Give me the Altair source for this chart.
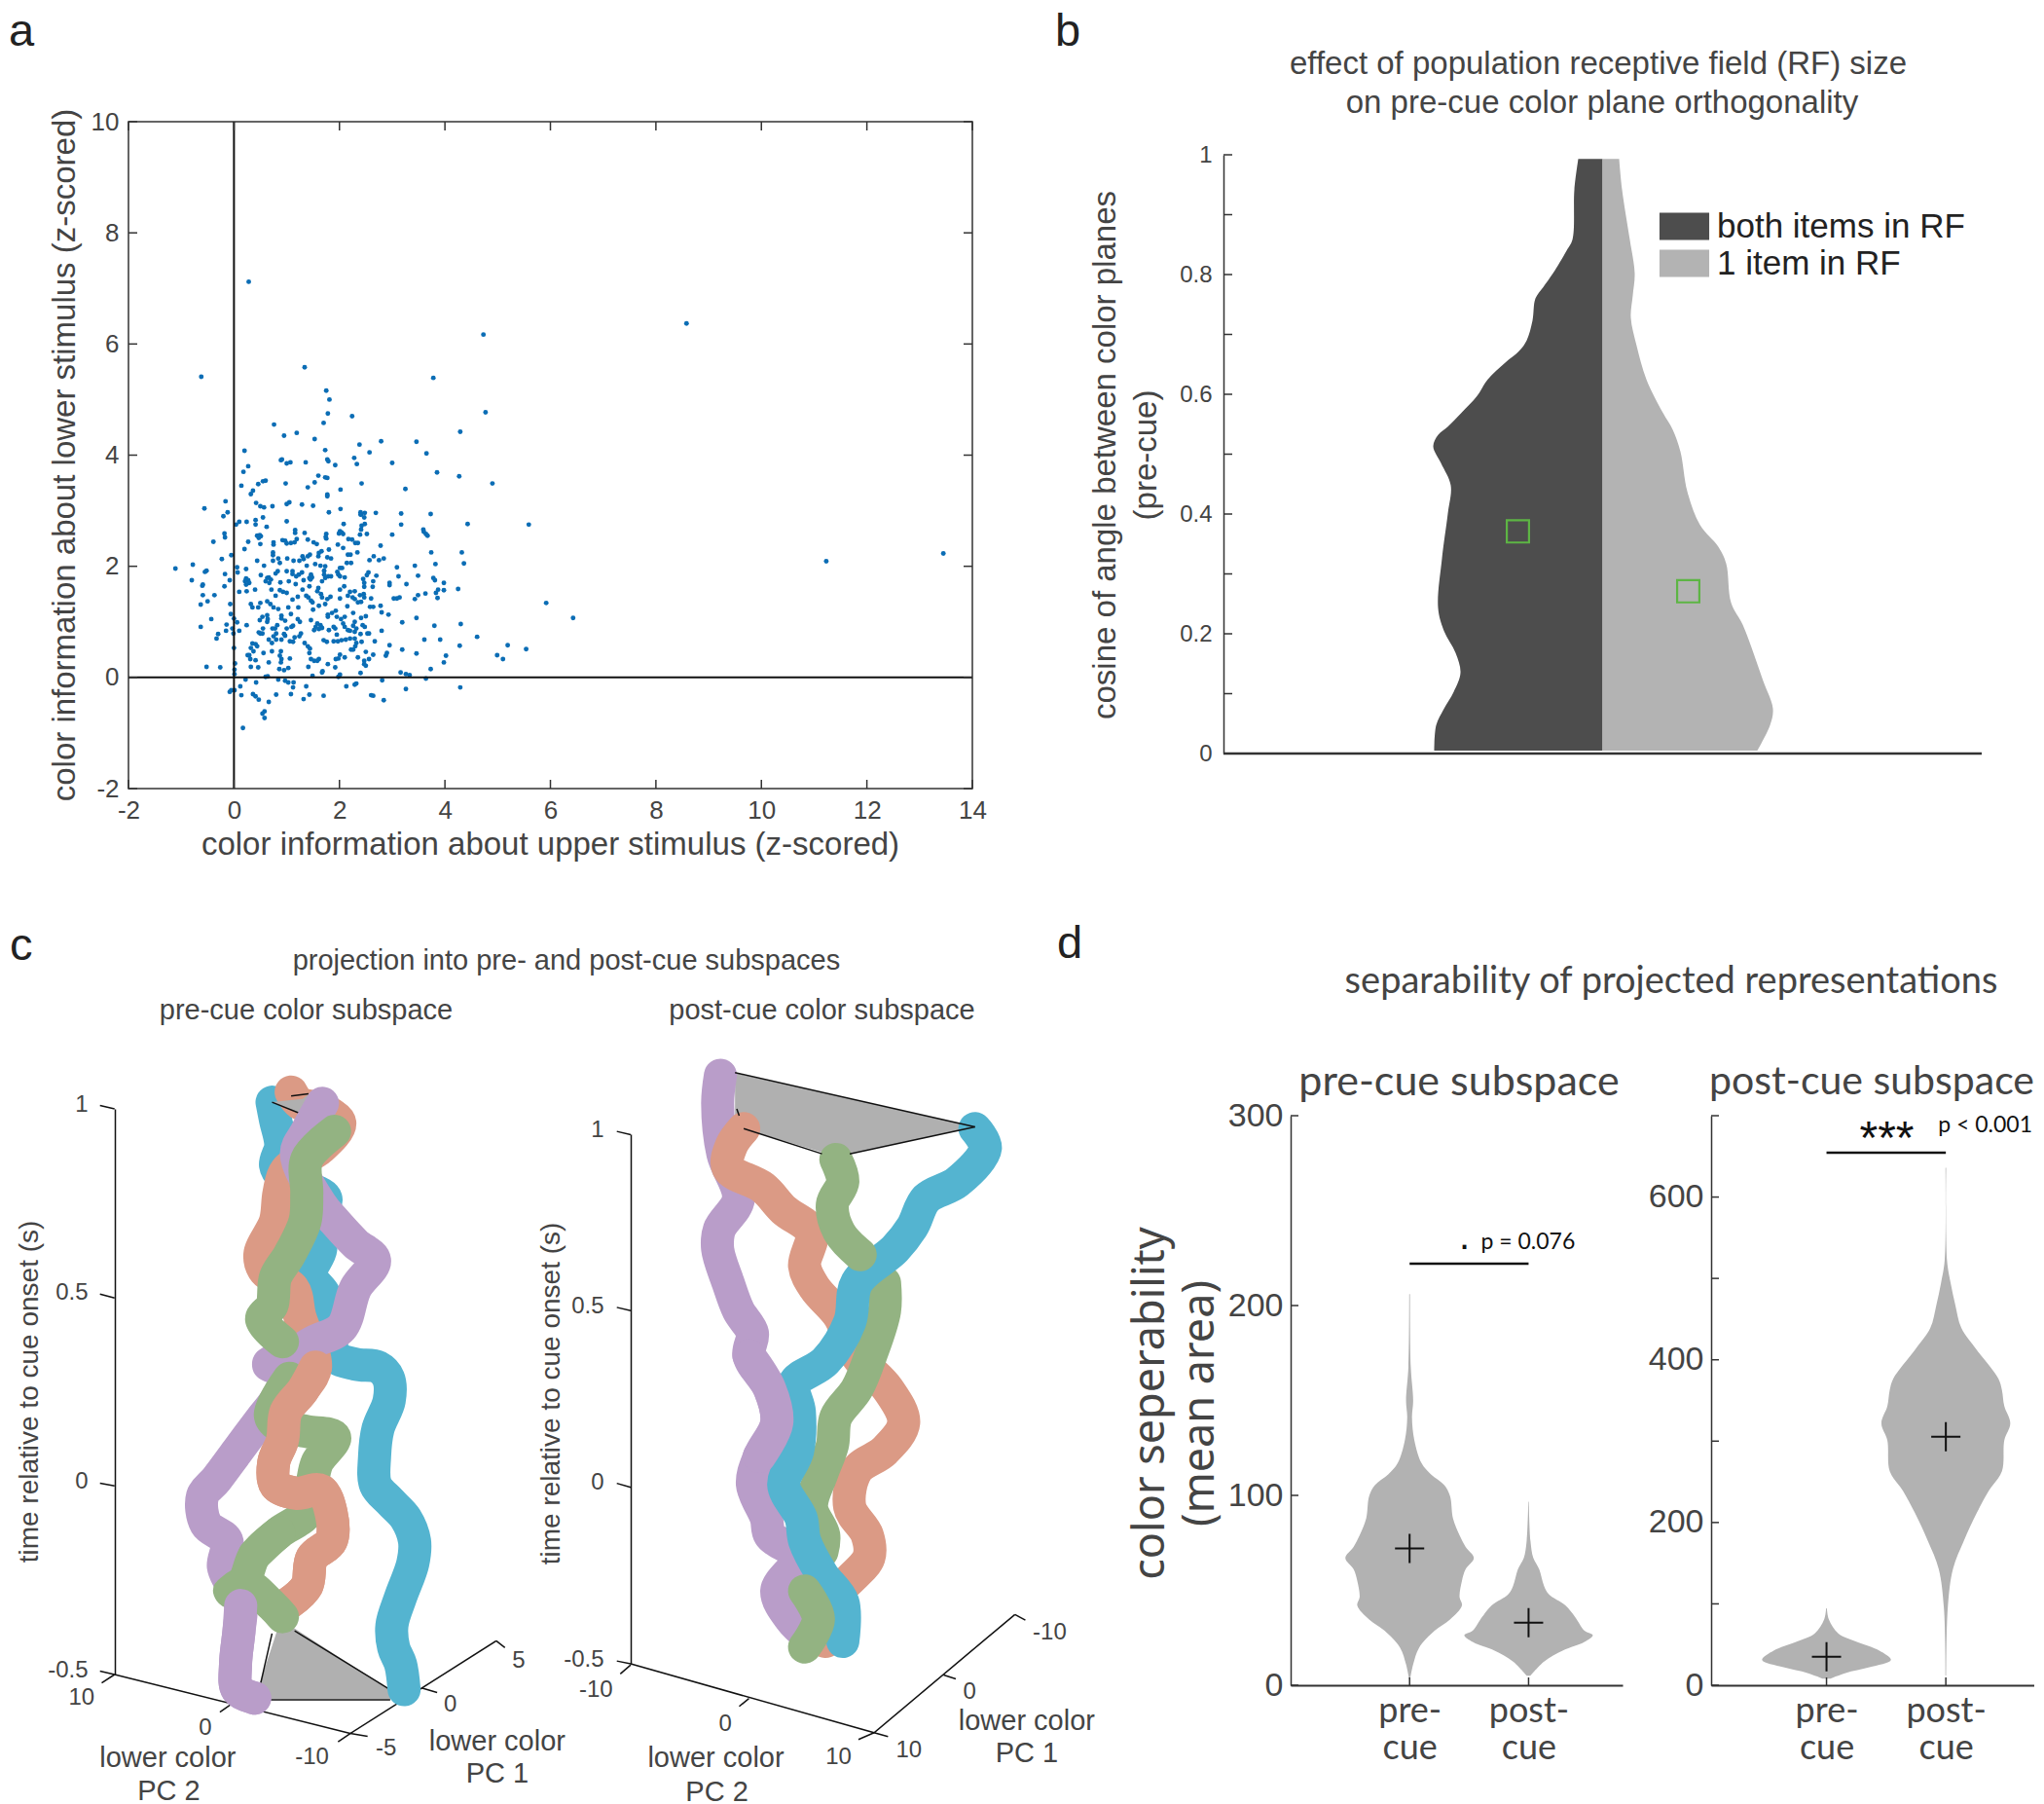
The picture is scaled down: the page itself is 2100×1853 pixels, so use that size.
import altair as alt
import pandas as pd

HELV = "Liberation Sans"
CAL = "Lato"
GREY = "#444444"

# ---------- panel a ----------
a_points = [(-0.62,5.41),(1.34,5.58),(3.78,5.39),(1.75,5.16),(1.81,5.0),(1.78,4.75),(2.24,4.7),(1.7,4.58),(0.76,4.55),(4.77,4.77),(4.29,4.42),
(0.95,4.35),(1.19,4.4),(1.53,4.29),(2.38,4.19),(2.57,4.05),(2.79,4.25),(3.46,4.24),(3.65,4.03),(0.2,4.08),(1.73,4.09),(2.28,3.95),(2.33,3.84),
(1.77,3.92),(1.79,3.89),(1.92,3.82),(3.0,3.86),(0.27,3.8),(0.18,3.7),(0.89,3.91),(0.91,3.92),(1.0,3.85),(1.07,3.87),(1.36,3.87),(3.85,3.69),
(4.27,3.62),(4.9,3.49),(1.6,3.63),(1.53,3.51),(1.4,3.42),(1.73,3.6),(1.77,3.59),(0.98,3.49),(2.42,3.49),(0.6,3.54),(0.55,3.53),(0.46,3.48),
(0.14,3.45),(0.36,3.36),(0.32,3.3),(2.02,3.38),(3.25,3.39),(1.77,3.29),(1.77,3.26),(0.42,3.14),(0.5,3.08),(0.57,3.06),(0.73,3.08),(1.0,3.12),
(1.05,3.15),(1.29,3.11),(1.5,3.09),(-0.16,3.17),(-0.56,3.04),(-0.12,2.97),(-0.2,2.9),(2.02,3.03),(1.8,2.97),(2.4,2.97),(2.48,2.96),(2.41,2.93),
(2.47,2.88),(2.4,2.93),(2.69,2.96),(3.17,2.95),(3.73,2.94),(0.55,2.88),(0.41,2.83),(0.41,2.75),(0.24,2.8),(0.1,2.8),(0.04,2.75),(1.0,2.81),
(0.62,2.71),(2.08,2.76),(2.48,2.76),(2.42,2.73),(2.41,2.66),(3.17,2.75),(4.43,2.76),(5.59,2.75),(3.59,2.66),(3.6,2.62),(3.64,2.58),(3.67,2.55),
(1.16,2.65),(1.16,2.6),(1.34,2.6),(2.01,2.63),(1.99,2.59),(2.04,2.61),(2.07,2.58),(2.52,2.58),(2.39,2.57),(3.0,2.57),(-0.18,2.59),(-0.17,2.52),
(0.44,2.55),(0.49,2.56),(0.47,2.51),(0.51,2.54),(1.75,2.58),(1.74,2.53),(1.75,2.5),(0.92,2.47),(0.97,2.46),(1.0,2.41),(1.08,2.42),(1.15,2.43),
(1.19,2.49),(0.75,2.43),(0.75,2.39),(1.4,2.48),(1.51,2.43),(1.57,2.4),(2.17,2.49),(2.24,2.48),(2.3,2.42),(2.35,2.42),(-0.39,2.44),(0.27,2.44),
(0.5,2.4),(0.2,2.31),(1.97,2.39),(2.07,2.33),(1.8,2.3),(2.78,2.37),(0.74,2.25),(0.74,2.2),(1.66,2.27),(1.61,2.24),(1.6,2.18),(3.74,2.25),(4.32,2.25),
(2.34,2.25),(2.16,2.21),(2.21,2.21),(1.44,2.21),(1.4,2.18),(1.3,2.18),(-0.05,2.2),(2.65,2.18),(2.57,2.11),(2.75,2.11),(2.84,2.14),(1.77,2.16),
(1.84,2.14),(1.01,2.14),(1.13,2.1),(1.24,2.1),(1.32,2.13),(0.84,2.14),(0.87,2.06),(-0.23,2.13),(0.74,2.1),(0.44,2.1),(2.14,2.06),(2.22,2.06),
(3.82,2.04),(4.36,2.05),(3.43,2.01),(1.54,2.04),(1.64,2.01),(1.73,2.0),(0.57,2.01),(1.38,2.01),(0.06,1.98),(3.09,1.98),(0.23,1.95),(-0.52,1.92),
(0.07,1.89),(2.01,1.97),(2.05,1.97),(1.96,1.9),(1.98,1.85),(0.83,1.91),(0.79,1.87),(1.0,1.91),(1.11,1.91),(1.11,1.86),(1.29,1.89),(1.23,1.85),
(1.18,1.82),(1.71,1.92),(1.71,1.85),(1.46,1.85),(1.43,1.79),(1.48,1.8),(2.55,1.89),(2.52,1.84),(-0.17,1.86),(2.7,1.83),(3.12,1.82),(3.49,1.83),
(0.51,1.84),(0.63,1.79),(0.66,1.8),(0.7,1.76),(0.6,1.73),(0.67,1.7),(1.79,1.82),(1.84,1.82),(1.73,1.79),(1.67,1.73),(2.1,1.8),(2.01,1.82),
(0.23,1.78),(0.27,1.75),(0.21,1.73),(0.29,1.7),(0.23,1.67),(-0.08,1.75),(-0.59,1.67),(-0.18,1.64),(2.45,1.77),(2.47,1.7),(2.47,1.63),(2.64,1.73),
(2.63,1.63),(3.78,1.79),(3.81,1.75),(3.98,1.7),(3.27,1.68),(2.95,1.7),(2.95,1.66),(0.88,1.71),(1.04,1.73),(1.32,1.75),(1.45,1.76),(1.17,1.68),
(1.3,1.58),(1.43,1.64),(1.6,1.61),(1.58,1.55),(2.09,1.64),(2.01,1.58),(2.2,1.54),(2.29,1.55),(0.71,1.58),(0.4,1.58),(0.24,1.55),(0.1,1.54),
(0.87,1.57),(0.93,1.54),(1.0,1.52),(1.65,1.5),(1.67,1.44),(2.46,1.5),(2.39,1.48),(2.6,1.42),(3.98,1.57),(3.87,1.58),(3.83,1.52),(3.49,1.48),
(3.43,1.41),(3.63,1.51),(4.25,1.59),(3.86,1.43),(-0.37,1.48),(-0.59,1.48),(-0.5,1.37),(-0.63,1.31),(0.79,1.47),(1.11,1.4),(1.21,1.45),(1.37,1.47),
(1.46,1.38),(1.83,1.45),(2.01,1.42),(2.16,1.47),(3.03,1.42),(3.09,1.42),(3.14,1.44),(2.25,1.44),(2.29,1.41),(2.47,1.44),(2.35,1.35),(2.41,1.36),
(1.41,1.44),(1.49,1.35),(1.77,1.41),(1.73,1.32),(1.61,1.29),(0.5,1.34),(0.63,1.37),(0.69,1.32),(0.75,1.26),(0.84,1.23),(0.32,1.32),(0.35,1.26),
(0.46,1.26),(-0.07,1.32),(1.03,1.26),(1.22,1.26),(2.15,1.28),(2.58,1.27),(2.64,1.27),(2.78,1.29),(1.5,1.22),(1.93,1.2),(1.86,1.16),(1.78,1.13),
(2.8,1.17),(2.93,1.13),(-0.06,1.14),(1.08,1.14),(2.26,1.16),(0.9,1.11),(0.9,1.06),(0.97,1.02),(0.63,1.12),(0.64,1.05),(0.54,1.09),(0.49,1.03),
(0.63,1.0),(1.95,1.09),(2.03,1.05),(2.1,1.09),(2.5,1.1),(2.41,1.07),(1.78,1.09),(1.21,1.05),(1.25,1.0),(1.46,1.03),(0.0,1.06),(0.06,0.99),(-0.43,1.05),
(3.19,0.99),(3.46,1.07),(3.8,0.93),(4.3,0.96),(0.82,0.94),(0.78,0.88),(0.73,0.88),(1.12,0.93),(1.0,0.88),(1.09,0.91),(1.58,0.97),(1.64,0.94),
(1.55,0.91),(1.52,0.85),(1.61,0.87),(1.67,0.89),(1.89,0.91),(2.07,0.97),(2.1,0.91),(2.16,0.85),(2.29,1.0),(2.26,0.93),(2.44,0.94),(2.48,0.91),
(-0.63,0.91),(-0.14,0.95),(-0.03,0.88),(0.24,0.94),(0.55,0.88),(0.54,0.79),(0.5,0.79),(0.47,0.81),(1.8,0.85),(1.92,0.88),(1.95,0.77),(2.2,0.84),
(2.32,0.88),(2.29,0.82),(-0.15,0.84),(-0.01,0.79),(0.1,0.84),(-0.3,0.78),(-0.33,0.7),(2.4,0.78),(2.53,0.79),(2.56,0.79),(2.8,0.84),(1.27,0.79),
(1.24,0.74),(1.15,0.72),(0.97,0.75),(0.95,0.78),(0.8,0.79),(0.75,0.74),(0.66,0.68),(0.8,0.68),(0.72,0.62),(0.9,0.68),(1.06,0.65),(1.12,0.64),
(1.34,0.62),(1.4,0.56),(1.44,0.52),(1.7,0.67),(1.76,0.64),(1.89,0.65),(1.97,0.65),(2.04,0.67),(2.12,0.68),(2.2,0.7),(2.29,0.7),(2.32,0.62),(2.3,0.56),
(2.26,0.5),(2.22,0.5),(2.42,0.64),(2.67,0.65),(2.95,0.58),(3.19,0.5),(3.46,0.43),(3.61,0.68),(3.91,0.68),(4.28,0.57),(4.61,0.73),(5.19,0.58),
(5.92,1.34),(6.43,1.07),(5.54,0.51),(4.99,0.4),(5.1,0.33),(4.02,0.39),(3.98,0.27),(3.73,0.15),(0.35,0.61),(0.41,0.6),(0.32,0.53),(0.44,0.56),(0.0,0.53),
(0.56,0.44),(0.89,0.47),(0.87,0.39),(0.72,0.47),(0.26,0.4),(0.29,0.4),(0.37,0.47),(0.31,0.33),(0.41,0.31),(1.06,0.34),(0.9,0.33),(0.89,0.27),(0.66,0.27),
(1.43,0.44),(1.61,0.33),(1.52,0.3),(1.46,0.33),(1.58,0.3),(2.01,0.41),(1.98,0.34),(1.93,0.33),(2.1,0.36),(2.5,0.46),(2.64,0.41),(2.35,0.36),(2.56,0.33),
(2.47,0.3),(2.9,0.44),(2.88,0.39),(1.78,0.24),(2.47,0.24),(2.5,0.21),(0.02,0.25),(-0.52,0.19),(-0.26,0.18),(0.01,0.14),(0.01,0.06),(0.32,0.19),(0.46,0.18),
(0.86,0.15),(0.95,0.13),(1.03,0.17),(1.41,0.19),(1.92,0.18),(1.68,0.11),(1.67,0.09),(2.4,0.08),(3.16,0.09),(3.26,0.06),(3.33,0.04),(0.6,0.01),(0.64,0.02),
(1.49,0.03),(1.98,0.01),(2.01,0.05),(3.64,-0.02),(2.81,-0.05),(0.22,-0.04),(0.42,-0.09),(0.84,-0.04),(0.97,-0.06),(1.03,-0.09),(1.13,-0.09),(1.12,-0.18),
(2.32,-0.11),(2.29,-0.13),(2.13,-0.16),(0.12,-0.16),(1.37,-0.16),(3.26,-0.21),(4.29,-0.18),(-0.08,-0.26),(-0.05,-0.23),(0.01,-0.23),(0.14,-0.32),(0.36,-0.3),
(0.41,-0.34),(0.47,-0.4),(0.8,-0.31),(1.08,-0.3),(1.43,-0.31),(1.32,-0.39),(1.7,-0.33),(2.6,-0.32),(2.64,-0.33),(2.84,-0.41),(0.66,-0.44),(0.58,-0.61),
(0.54,-0.65),(0.58,-0.73),(0.17,-0.91),(0.28,7.12),(4.73,6.17),(8.58,6.37),(11.23,2.09),(13.45,2.23),(-1.11,1.96),(-0.78,2.03),(-0.8,1.75),(-0.55,1.9),(-0.6,1.65)]
a_x_ticks = [-2, 0, 2, 4, 6, 8, 10, 12, 14]
a_y_ticks = [-2, 0, 2, 4, 6, 8, 10]

# ---------- panel b ----------
b_left_value = [.993,.942,.858,.840,.802,.779,.760,.723,.690,.672,.653,.625,.597,.569,.546,.532,.513,.485,.448,.401,.326,.243,.205,.168,.135,.103,.075,.047,.005]
b_left_width = [25,29,31,37,51,61,69,72,78,86,100,118,129,145,159,169,174,166,156,159,165,169,163,151,146,153,163,171,173]
b_right_value = [.993,.942,.858,.802,.765,.728,.681,.625,.569,.541,.504,.438,.382,.345,.317,.252,.215,.168,.121,.075,.047,.005]
b_right_width = [17,20,28,33,31,29,35,45,62,72,80,87,100,119,127,132,144,155,165,175,172,159]
b_medians = [(-87, 0.371), (88, 0.271)]
b_ticks = [0, .1, .2, .3, .4, .5, .6, .7, .8, .9, 1]
b_names = ["both items in RF", "1 item in RF"]

# ---------- panel c (readings on the projection plane) ----------
c1_blue = [(1160,1365),(1150,1320),(1130,1290),(1125,1250),(1150,1200),(1185,1140),(1190,1100),(1165,1060),(1120,1030),(1078,1000),(1075,950),(1085,900),(1117,850),(1115,810),(1085,790),(1020,785),(960,770),(950,700),(930,660),(890,625),(920,580),(905,530),(935,490),(880,470),(810,450),(790,430),(805,395),(790,350),(780,318)]
c1_salmon = [(830,1210),(880,1180),(895,1130),(950,1100),(950,1050),(920,1010),(850,1015),(790,1000),(785,960),(810,920),(820,870),(870,830),(905,790),(860,700),(840,650),(760,620),(745,590),(790,530),(800,480),(820,440),(920,400),(975,355),(920,330),(860,320),(835,300)]
c1_salmon_low = [(830,1210),(880,1180),(895,1130),(950,1100),(950,1050),(920,1010),(850,1015),(790,1000),(785,960),(810,920),(820,870),(870,830),(905,790)]
c1_purple = [(730,1380),(680,1365),(675,1320),(685,1260),(690,1215),(660,1175),(640,1145),(650,1100),(590,1070),(580,1020),(620,990),(680,940),(740,890),(800,840),(820,800),(770,785),(830,770),(900,745),(980,720),(1020,650),(1075,600),(1020,570),(960,530),(920,500),(850,410),(880,370),(925,320)]
c1_purple_low = [(730,1380),(680,1365),(675,1320),(685,1260),(690,1215)]
c1_green_top = [(960,370),(880,420),(880,480),(875,530),(830,590),(790,630),(780,680),(750,705),(810,745)]
c1_green_mid = [(830,810),(775,875),(800,895),(880,905),(960,915),(910,960),(895,1000),(880,1050),(800,1085),(730,1125)]
c1_green_low = [(800,1085),(730,1125),(700,1170),(660,1190),(700,1175),(780,1215),(810,1235)]

c2_purple = [(558,270),(550,320),(565,410),(610,490),(555,545),(550,580),(580,640),(610,690),(650,730),(640,770),(700,830),(720,890),(670,950),(650,1000),(690,1060),(700,1090),(780,1130),(720,1190),(760,1240),(810,1270)]
c2_purple_mid = [(640,770),(700,830),(720,890),(670,950)]
c2_salmon = [(625,365),(590,395),(580,435),(680,470),(740,510),(820,550),(800,610),(830,650),(900,700),(950,770),(1040,830),(1085,890),(1030,940),(950,975),(930,1040),(980,1090),(985,1130),(930,1170),(880,1200),(860,1280)]
c2_green_top = [(890,420),(910,460),(880,500),(900,550),(960,590)]
c2_green_mid = [(1030,640),(1030,690),(990,770),(950,830),(890,880),(880,930),(850,980),(820,1040),(855,1090),(850,1120)]
c2_green_low = [(800,1190),(840,1240),(800,1290)]
c2_blue = [(1290,365),(1320,400),(1240,460),(1150,490),(1110,540),(1060,580),(950,640),(930,710),(860,780),(770,820),(785,870),(780,940),(740,1000),(790,1060),(800,1100),(850,1160),(910,1210),(910,1280)]

c1_plane_x = [730, 805, 1160]
c1_plane_top = [1382, 1240, 1382]
c1_plane_bottom = [1382, 1382, 1382]
c1_lid_x = [780, 868, 885]
c1_lid_top = [318, 312, 304]
c1_lid_bottom = [318, 340, 304]
c2_plane_x = [600, 625, 890, 1290]
c2_plane_top = [265, 269, 306, 362]
c2_plane_bottom = [340, 365, 415, 362]

c1_segments = [(285,324,327,330),(285,660,327,667),(285,997,327,1002),(285,1332,327,1338),(327,1338,1005,1443),(1005,1443,1425,1278),
               (327,1338,290,1353),(665,1390,630,1405),(1005,1443,970,1458),(1005,1443,1055,1448),(1210,1362,1255,1370),(1425,1278,1450,1290),
               (845,1260,1120,1365),(745,1383,1120,1383),(745,1360,780,1265)]
c1_top_segments = [(780,318,868,340),(835,307,885,303)]
c2_segments = [(260,370,300,376),(260,684,300,690),(260,998,300,1005),(260,1315,300,1320),(300,1320,1000,1443),(1000,1443,1405,1232),
               (300,1322,270,1338),(640,1382,612,1396),(1000,1443,955,1455),(1000,1443,1040,1450),(1200,1340,1235,1347),(1405,1232,1435,1242)]
c2_top_segments = [(600,265,1290,362),(1290,362,930,410),(625,365,850,410),(605,330,612,342)]

c1_tick_text = [(232,1380,"10"),(588,1433,"0"),(895,1485,"-10"),(1108,1470,"-5"),(1293,1392,"0"),(1490,1313,"5")]
c1_axis_text = [(480,1488,"lower color"),(483,1546,"PC 2"),(1428,1458,"lower color"),(1428,1515,"PC 1")]
c1_title_text = [(1627,66,"projection into pre- and post-cue subspaces"),(878,155,"pre-cue color subspace")]
c2_tick_text = [(200,1367,"-10"),(572,1427,"0"),(898,1487,"10"),(1100,1475,"10"),(1275,1370,"0"),(1505,1265,"-10")]
c2_axis_text = [(545,1488,"lower color"),(548,1549,"PC 2"),(1439,1423,"lower color"),(1439,1480,"PC 1")]
c2_title_text = [(850,155,"post-cue color subspace")]

# ---------- panel d ----------
d1_pre_value = [206,167.6,149.9,141,129,117,111,105.5,99.6,87.8,79,73,67,61,55,46.4,42,34.6,28.7,19.8,11,3.5]
d1_pre_half = [.003,.01,.03,.02,.04,.10,.18,.29,.34,.365,.42,.47,.54,.47,.44,.42,.44,.34,.21,.08,.03,.005]
d1_post_value = [96.7,76,67,61,52.3,47.9,42,36,28.7,26.3,22.8,18.3,12.4,5]
d1_post_half = [.002,.016,.04,.09,.13,.17,.31,.39,.47,.54,.47,.29,.13,.016]
d2_pre_value = [94.5,80.7,63.4,53,42.8,31,22,15,8]
d2_pre_half = [.003,.02,.10,.26,.44,.54,.36,.16,.03]
d2_post_value = [636,522,494.5,467,439,412,377,363,343,322,301,263,239,212,177,143,94.5,12]
d2_post_half = [.003,.01,.04,.08,.13,.26,.44,.47,.49,.54,.49,.47,.36,.26,.15,.06,.016,.003]
d1_means = [72, 33]
d2_means = [35, 305.5]
d1_y_ticks = [0, 100, 200, 300]
d2_y_ticks = [0, 100, 200, 300, 400, 500, 600, 700]
d_positions = [1, 2]

BLUE, SALMON, PURPLE, GREEN = "#54b4d0", "#db9a85", "#b99dc9", "#93b382"


def letter(text, x, y):
    return alt.Chart(pd.DataFrame({"t": [text]})).mark_text(
        font=HELV, fontSize=47, align="left", baseline="alphabetic", color="#222222"
    ).encode(x=alt.value(x), y=alt.value(y), text="t:N")


def fixed_text(text, x, y, size, font=HELV, color=GREY):
    return alt.Chart(pd.DataFrame({"t": [text]})).mark_text(
        font=font, fontSize=size, align="center", baseline="middle", color=color
    ).encode(x=alt.value(x), y=alt.value(y), text="t:N")


# ---------- build a ----------
HELV_AXIS = dict(labelFont=HELV, titleFont=HELV, labelColor=GREY, titleColor=GREY, grid=False, tickSize=0,
                 domain=False, labelExpr="toString(datum.value)", titleFontWeight="normal", labelFlush=False)
ax = alt.Scale(domain=[-2, 14], nice=False, zero=False)
ay = alt.Scale(domain=[-2, 10], nice=False, zero=False)
a_xaxis = alt.Axis(values=a_x_ticks, labelFontSize=26, labelPadding=9,
        title="color information about upper stimulus (z-scored)", titleFontSize=33,
        titleX=433, titleY=57, titleBaseline="middle", titleAlign="center", **HELV_AXIS)
a_yaxis = alt.Axis(values=a_y_ticks, labelFontSize=26, labelPadding=10,
        title="color information about lower stimulus (z-scored)", titleFontSize=33,
        titleX=-66, titleY=342, titleBaseline="middle", titleAlign="center", **HELV_AXIS)
AX = lambda f: alt.X(f, scale=ax, axis=a_xaxis)
AY = lambda f: alt.Y(f, scale=ay, axis=a_yaxis)
a_df = pd.DataFrame(a_points, columns=["upper", "lower"])
a_base = alt.Chart(a_df).mark_circle(size=24, opacity=1, color="#0b6db5").encode(x=AX("upper:Q"), y=AY("lower:Q"))
xt = pd.DataFrame({"v": a_x_ticks})
yt = pd.DataFrame({"v": a_y_ticks})
tick_style = dict(color="#333333", strokeWidth=1.5)
a_chart = alt.layer(
    a_base,
    alt.Chart(pd.DataFrame({"v": [0]})).mark_rule(color="#111111", strokeWidth=2).encode(x=AX("v:Q")),
    alt.Chart(pd.DataFrame({"v": [0]})).mark_rule(color="#111111", strokeWidth=2).encode(y=AY("v:Q")),
    alt.Chart(xt).mark_rule(**tick_style).encode(x=AX("v:Q"), y=alt.value(685), y2=alt.value(676)),
    alt.Chart(xt).mark_rule(**tick_style).encode(x=AX("v:Q"), y=alt.value(0), y2=alt.value(9)),
    alt.Chart(yt).mark_rule(**tick_style).encode(y=AY("v:Q"), x=alt.value(0), x2=alt.value(9)),
    alt.Chart(yt).mark_rule(**tick_style).encode(y=AY("v:Q"), x=alt.value(867), x2=alt.value(858)),
    letter("a", -123, -78),
).properties(width=867, height=685, view=alt.ViewConfig(stroke="#333333", strokeWidth=1.5))

# ---------- build b ----------
bx = alt.Scale(domain=[-389.5, 389.5], nice=False, zero=False)
by = alt.Scale(domain=[0, 1], range=[649, 34], nice=False, zero=False)
b_yaxis = alt.Axis(values=[0, .2, .4, .6, .8, 1], labelFontSize=24, labelPadding=12,
            title=["cosine of angle between color planes", "(pre-cue)"], titleFontSize=33, titleLineHeight=42,
            titleX=-122, titleY=342, titleBaseline="middle", titleAlign="center",
            domain=True, domainColor="#333333", domainWidth=1.5,
            **{k: v for k, v in HELV_AXIS.items() if k != "domain"})
BY = lambda f: alt.Y(f, scale=by, axis=b_yaxis)
b_df = pd.concat([
    pd.DataFrame({"value": b_left_value, "edge": [-w for w in b_left_width], "zero": 0, "side": b_names[0]}),
    pd.DataFrame({"value": b_right_value, "edge": b_right_width, "zero": 0, "side": b_names[1]}),
])
b_chart = alt.layer(
    alt.Chart(b_df).mark_area(orient="horizontal", opacity=1, interpolate="catmull-rom").encode(
        y=BY("value:Q"),
        x=alt.X("edge:Q", scale=bx, axis=None),
        x2="zero:Q",
        color=alt.Color("side:N", scale=alt.Scale(domain=b_names, range=["#4d4d4d", "#b3b3b3"]),
            legend=alt.Legend(orient="none", legendX=1579, legendY=88, title=None,
                symbolType="M-1.31,-0.72H1.31V0.72H-1.31Z", symbolSize=1521, symbolStrokeWidth=0, labelLimit=500,
                labelFont=HELV, labelFontSize=35, labelColor="#222222", rowPadding=0, labelOffset=14)),
    ),
    alt.Chart(pd.DataFrame({"v": b_ticks})).mark_rule(**tick_style).encode(
        y=BY("v:Q"), x=alt.value(0), x2=alt.value(9)),
    alt.Chart(pd.DataFrame({"v": [0]})).mark_rule(color="#333333", strokeWidth=2.5).encode(
        y=BY("v:Q"), x=alt.value(0), x2=alt.value(779)),
    alt.Chart(pd.DataFrame(b_medians, columns=["w", "v"])).mark_point(
        shape="square", size=520, filled=False, color="#5db544", strokeWidth=2.2, opacity=1).encode(
        x=alt.X("w:Q", scale=bx, axis=None), y=BY("v:Q")),
    fixed_text("effect of population receptive field (RF) size", 385, -59, 33),
    fixed_text("on pre-cue color plane orthogonality", 389, -19, 33),
    letter("b", -173, -78),
).properties(width=779, height=649)


# ---------- build c ----------
def c_panel(xdom, yrange, yz_top, yz_span, width, offset, title_x, title_y, layers_spec):
    def to_t(yz):
        return 1 - (yz - yz_top) / yz_span * 1.5
    sx = alt.Scale(domain=xdom, nice=False, zero=False)
    sy = alt.Scale(domain=[-0.5, 1], range=yrange, nice=False, zero=False)
    y_axis = alt.Axis(values=[-0.5, 0, 0.5, 1], labelFontSize=24, offset=offset, labelPadding=28,
            labelOffset=-5, tickSize=0, grid=False, domain=True, domainColor="#111111", domainWidth=1.5,
            labelExpr="toString(datum.value)", labelFont=HELV, labelColor=GREY, titleFont=HELV, titleColor=GREY,
            titleFontWeight="normal", title="time relative to cue onset (s)", titleFontSize=28, titleX=title_x,
            titleY=title_y, titleBaseline="middle", titleAlign="center")
    X = lambda f: alt.X(f, scale=sx, axis=None)
    Y = lambda f: alt.Y(f, scale=sy, axis=y_axis)
    layers = []
    for kind, payload, style in layers_spec:
        if kind == "track":
            df = pd.DataFrame(payload, columns=["x", "yz"]).assign(i=lambda d: range(len(d)))
            df["t"] = to_t(df["yz"])
            layers.append(alt.Chart(df).mark_line(color=style, strokeWidth=34, strokeCap="round", strokeJoin="round",
                                                  interpolate="catmull-rom").encode(
                x=X("x:Q"), y=Y("t:Q"), order="i:Q"))
        elif kind == "plane":
            df = pd.DataFrame({"x": payload[0], "t": to_t(pd.Series(payload[1])), "t2": to_t(pd.Series(payload[2]))})
            layers.append(alt.Chart(df).mark_area(color="#b0b0b0", opacity=1).encode(x=X("x:Q"), y=Y("t:Q"), y2="t2:Q"))
        elif kind == "seg":
            df = pd.DataFrame(payload, columns=["x", "yz", "x2", "yz2"])
            df["t"] = to_t(df["yz"])
            df["t2"] = to_t(df["yz2"])
            layers.append(alt.Chart(df).mark_rule(color="#111111", strokeWidth=style).encode(
                x=X("x:Q"), x2="x2:Q", y=Y("t:Q"), y2="t2:Q"))
        elif kind == "text":
            df = pd.DataFrame(payload, columns=["x", "yz", "label"])
            df["t"] = to_t(df["yz"])
            layers.append(alt.Chart(df).mark_text(font=HELV, fontSize=style, color=GREY, align="center", baseline="middle").encode(
                x=X("x:Q"), y=Y("t:Q"), text="label:N"))
    return layers


c1_layers = c_panel([367, 1812], [574, -7], 330, 1008, 516, 14, -88, 283, [
    ("plane", (c1_plane_x, c1_plane_top, c1_plane_bottom), None),
    ("seg", c1_segments, 1.5),
    ("track", c1_blue, BLUE),
    ("track", c1_salmon, SALMON),
    ("plane", (c1_lid_x, c1_lid_top, c1_lid_bottom), None),
    ("seg", c1_top_segments, 1.5),
    ("track", c1_purple, PURPLE),
    ("track", c1_green_mid, GREEN),
    ("track", c1_salmon_low, SALMON),
    ("track", c1_green_top, GREEN),
    ("track", c1_green_low, GREEN),
    ("track", c1_purple_low, PURPLE),
    ("text", c1_tick_text, 24),
    ("text", c1_axis_text, 29),
    ("text", c1_title_text, 29),
])
c1_chart = alt.layer(*c1_layers, letter("c", -122, -160)).properties(width=516, height=585)

c2_layers = c_panel([300, 2198], [563, 19], 375, 945, 678, 0, -82, 285, [
    ("plane", (c2_plane_x, c2_plane_top, c2_plane_bottom), None),
    ("seg", c2_segments, 1.5),
    ("track", c2_purple, PURPLE),
    ("track", c2_salmon, SALMON),
    ("track", c2_green_mid, GREEN),
    ("track", c2_blue, BLUE),
    ("track", c2_purple_mid, PURPLE),
    ("track", c2_green_top, GREEN),
    ("track", c2_green_low, GREEN),
    ("seg", c2_top_segments, 1.5),
    ("text", c2_tick_text, 24),
    ("text", c2_axis_text, 29),
    ("text", c2_title_text, 29),
])
c2_chart = alt.layer(*c2_layers).properties(width=678, height=585)


# ---------- build d ----------
def violin(values, half, pos):
    return pd.DataFrame({"value": values, "lo": [pos - h for h in half], "hi": [pos + h for h in half]})


def d_panel(xdom, xrange_, ymax, yvals, yticks, pre, post, means, width, extra, y_title=None):
    sx = alt.Scale(domain=xdom, range=xrange_, nice=False, zero=False)
    sy = alt.Scale(domain=[0, ymax], nice=False, zero=False)
    if y_title:
        kw = dict(title=y_title, titleFont="Noto Sans", titleFontSize=45, titleColor=GREY, titleFontWeight="normal",
                  titleLineHeight=51, titleX=-145, titleY=295, titleAlign="center", titleBaseline="middle")
    else:
        kw = dict(title=None)
    y_axis = alt.Axis(values=yvals, labelFont=HELV, labelFontSize=34, labelColor=GREY,
            labelPadding=8, tickSize=0, grid=False, domain=True, domainColor="#333333", domainWidth=1.5, **kw)
    x_axis = alt.Axis(values=d_positions, tickSize=0, grid=False, domain=True, labelFlush=False,
            domainColor="#333333", domainWidth=2, title=None, labelFont=CAL, labelFontSize=36, labelColor=GREY,
            labelPadding=9, labelLineHeight=38, labelExpr="datum.value == 1 ? ['pre-', 'cue'] : ['post-', 'cue']")
    X = lambda f: alt.X(f, scale=sx, axis=x_axis)
    Y = lambda f: alt.Y(f, scale=sy, axis=y_axis)
    layers = [
        alt.Chart(violin(*pre, 1)).mark_area(orient="horizontal", color="#b2b2b2", opacity=1, interpolate="catmull-rom").encode(
            y=Y("value:Q"), x=X("lo:Q"), x2="hi:Q"),
        alt.Chart(violin(*post, 2)).mark_area(orient="horizontal", color="#b2b2b2", opacity=1, interpolate="catmull-rom").encode(
            y=Y("value:Q"), x=X("lo:Q"), x2="hi:Q"),
        alt.Chart(pd.DataFrame({"p": d_positions, "m": means})).mark_point(
            shape="M-1,0H1M0,-1V1", size=900, filled=False, color="#111111", strokeWidth=2, opacity=1).encode(
            x=X("p:Q"), y=Y("m:Q")),
        alt.Chart(pd.DataFrame({"v": yticks})).mark_rule(**tick_style).encode(
            y=Y("v:Q"), x=alt.value(0), x2=alt.value(8)),
        alt.Chart(pd.DataFrame({"p": d_positions})).mark_rule(**tick_style).encode(
            x=X("p:Q"), y=alt.value(585), y2=alt.value(577)),
    ]
    for bar_v, texts in extra:
        layers.append(alt.Chart(pd.DataFrame({"a": [1], "b": [2], "v": [bar_v]})).mark_rule(color="#111111", strokeWidth=2.5).encode(
            x=X("a:Q"), x2="b:Q", y=Y("v:Q")))
        for xv, yv, s, size, font in texts:
            layers.append(alt.Chart(pd.DataFrame({"x": [xv], "y": [yv], "s": [s]})).mark_text(
                font=font, fontSize=size, color="#111111", align="center", baseline="middle").encode(
                x=X("x:Q"), y=Y("y:Q"), text="s:N"))
    return layers, width


l1, w1 = d_panel([0, 2.79], [0, 341], 300, d1_y_ticks[:], d1_y_ticks, (d1_pre_value, d1_pre_half), (d1_post_value, d1_post_half),
                 d1_means, 432, [(222, [(1.46, 236, ".", 40, HELV), (1.995, 233.5, "p = 0.076", 23, CAL)])],
                 y_title=["color seperability", "(mean area)"])
d1_chart = alt.layer(
    *l1,
    fixed_text("pre-cue subspace", 173, -34, 43, CAL),
    fixed_text("separability of projected representations", 391, -137, 38, CAL),
    letter("d", -240, -162),
).properties(width=w1, height=585)

l2, w2 = d_panel([0.033, 2.79], [0, 338], 700, [0, 200, 400, 600], d2_y_ticks, (d2_pre_value, d2_pre_half), (d2_post_value, d2_post_half),
                 d2_means, 338, [(654.5, [(1.505, 670, "***", 48, HELV), (2.33, 688, "p < 0.001", 23, CAL)])])
d2_chart = alt.layer(
    *l2,
    fixed_text("post-cue subspace", 165, -34, 41, CAL),
).properties(width=w2, height=585)

row1 = alt.hconcat(a_chart, b_chart, spacing=258, bounds="flush")
row2 = alt.hconcat(c1_chart, c2_chart, d1_chart, d2_chart, spacing=0, bounds="flush")

chart = alt.vconcat(row1, row2, spacing=1021, bounds="flush").resolve_scale(color="independent").properties(
    padding={"left": 0, "top": 0, "right": -6, "bottom": 0}
).configure_view(stroke=None).configure_axis(labelOverlap=False)

chart.save("out.html", embed_options={"renderer": "svg", "actions": False})
